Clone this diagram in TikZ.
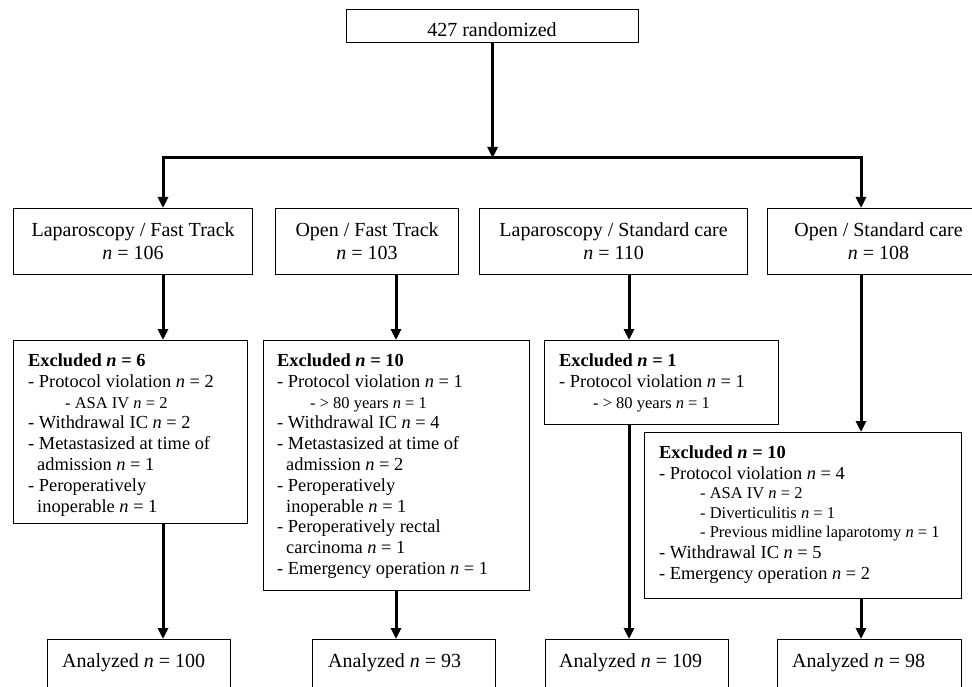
\documentclass[tikz,border=0pt]{standalone}
\usepackage{fontspec}
\setmainfont{Liberation Serif}
\usetikzlibrary{arrows.meta}
\newcommand{\nv}{\textit{n}}
\newcommand{\subtxt}[1]{{\fontsize{16.5}{20.8}\selectfont #1}}
\begin{document}
\begin{tikzpicture}[x=1pt,y=-1pt,
  box/.style={draw=black, line width=1.2pt, inner sep=0pt, anchor=north west, align=center, font=\fontsize{20}{23}\selectfont},
  txt/.style={inner sep=0pt, anchor=north west, align=left, font=\fontsize{18.4}{20.8}\selectfont},
  big/.style={inner sep=0pt, font=\fontsize{20}{23}\selectfont},
  tip/.tip={Triangle[length=11pt,width=10pt]},
  arr/.style={line width=3pt, -tip},
  barr/.style={line width=3pt, tip-tip}]
\useasboundingbox (0,0) rectangle (972,687);

% top
\node[box, minimum width=292, minimum height=33] (top) at (346,9) {};
\node[big] (toptxt) at (492,30) {427 randomized};

% groups
\node[box, minimum width=239, minimum height=66] (g1) at (13,208) {Laparoscopy / Fast Track\\\nv{} = 106};
\node[box, minimum width=183, minimum height=66] (g2) at (275,208) {Open / Fast Track\\\nv{} = 103};
\node[box, minimum width=268, minimum height=66] (g3) at (479,208) {Laparoscopy / Standard care\\\nv{} = 110};
\node[box, minimum width=222, minimum height=66] (g4) at (767,208) {Open / Standard care\\\nv{} = 108};

% excluded boxes
\node[box, minimum width=234, minimum height=183] (ex1) at (13,340) {};
\node[box, minimum width=266, minimum height=250] (ex2) at (263,340) {};
\node[box, minimum width=234, minimum height=84] (ex3) at (544,340) {};
\node[box, minimum width=317, minimum height=166] (ex4) at (644,432) {};

\node[txt] (t1) at (28,353.5) {\textbf{Excluded \textit{n} = 6}\\
- Protocol violation \nv{} = 2\\
\hspace*{37pt}\subtxt{- ASA IV \nv{} = 2}\\
- Withdrawal IC \nv{} = 2\\
- Metastasized at time of\\
\hspace*{9pt}admission \nv{} = 1\\
- Peroperatively\\
\hspace*{9pt}inoperable \nv{} = 1};

\node[txt] (t2) at (277,353.5) {\textbf{Excluded \textit{n} = 10}\\
- Protocol violation \nv{} = 1\\
\hspace*{33pt}\subtxt{- > 80 years \nv{} = 1}\\
- Withdrawal IC \nv{} = 4\\
- Metastasized at time of\\
\hspace*{9pt}admission \nv{} = 2\\
- Peroperatively\\
\hspace*{9pt}inoperable \nv{} = 1\\
- Peroperatively rectal\\
\hspace*{9pt}carcinoma \nv{} = 1\\
- Emergency operation \nv{} = 1};

\node[txt] (t3) at (559,353.5) {\textbf{Excluded \textit{n} = 1}\\
- Protocol violation \nv{} = 1\\
\hspace*{34pt}\subtxt{- > 80 years \nv{} = 1}};

\node[txt] (t4) at (659,445.5) {\textbf{Excluded \textit{n} = 10}\\
- Protocol violation \nv{} = 4\\[-1.4pt]
\hspace*{41pt}\subtxt{- ASA IV \nv{} = 2}\\[-1.4pt]
\hspace*{41pt}\subtxt{- Diverticulitis \nv{} = 1}\\[-1.4pt]
\hspace*{41pt}\subtxt{- Previous midline laparotomy \nv{} = 1}\\
- Withdrawal IC \nv{} = 5\\
- Emergency operation \nv{} = 2};

% analyzed
\node[box, minimum width=183, minimum height=70] (an1) at (47,639) {};
\node[box, minimum width=183, minimum height=70] (an2) at (312,639) {};
\node[box, minimum width=183, minimum height=70] (an3) at (545,639) {};
\node[box, minimum width=184, minimum height=70] (an4) at (777,639) {};
\node[big, anchor=base west] (a1t) at (62,667) {Analyzed \nv{} = 100};
\node[big, anchor=base west] (a2t) at (328,667) {Analyzed \nv{} = 93};
\node[big, anchor=base west] (a3t) at (559,667) {Analyzed \nv{} = 109};
\node[big, anchor=base west] (a4t) at (792,667) {Analyzed \nv{} = 98};

% connectors
\coordinate (c1) at (163,0);
\coordinate (c2) at (396,0);
\coordinate (c3) at (629,0);
\coordinate (c4) at (861,0);
\coordinate (bl) at (163,158);
\coordinate (br) at (861,158);

\draw[arr] (top.south) -- (top.south |- bl);
\draw[barr] (g1.north -| bl) -- (bl) -- (br) -- (g4.north -| br);

\draw[arr] (g1.south -| c1) -- (ex1.north -| c1);
\draw[arr] (g2.south -| c2) -- (ex2.north -| c2);
\draw[arr] (g3.south -| c3) -- (ex3.north -| c3);
\draw[arr] (g4.south -| c4) -- (ex4.north -| c4);

\draw[arr] (ex1.south -| c1) -- (an1.north -| c1);
\draw[arr] (ex2.south -| c2) -- (an2.north -| c2);
\draw[arr] (ex3.south -| c3) -- (an3.north -| c3);
\draw[arr] (ex4.south -| c4) -- (an4.north -| c4);
\end{tikzpicture}
\end{document}
